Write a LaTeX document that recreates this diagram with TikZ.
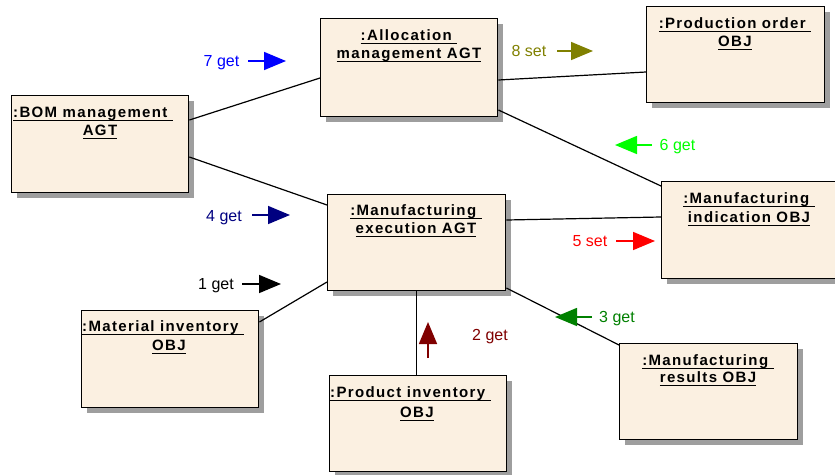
\documentclass[tikz,border=0pt]{standalone}
\usepackage{fontspec}
\setmainfont{Liberation Sans}
\newfontfamily\titlefont[LetterSpace=9]{Liberation Sans}
\usetikzlibrary{shadows,arrows.meta,calc}
\definecolor{boxfill}{HTML}{FBF0E1}
\definecolor{olivemsg}{HTML}{808000}
\definecolor{limemsg}{HTML}{00FF00}
\definecolor{navymsg}{HTML}{000080}
\definecolor{maroonmsg}{HTML}{800000}
\definecolor{greenmsg}{HTML}{008000}
% underline at a fixed depth below the baseline
\newcommand\uln[1]{\sbox0{#1}\usebox0\kern-\wd0\rule[-3.6pt]{\wd0}{1.1pt}}
\tikzset{
  objbox/.style={draw=black, line width=1.4pt, fill=boxfill, anchor=north west,
    minimum width=177pt, minimum height=97pt, inner sep=0pt,
    drop shadow={shadow xshift=5pt, shadow yshift=-5pt, fill=black!38, opacity=1}},
  ttl/.style={font=\titlefont\bfseries\fontsize{15}{17}\selectfont, inner sep=0pt, anchor=mid, yshift=-2.5pt},
  ttlw/.style={ttl, anchor=mid west},
  link/.style={draw=black, line width=1.2pt},
  lbl/.style={font=\fontsize{16}{18}\selectfont, inner sep=0pt, anchor=mid, yshift=-2.5pt},
  msg/.style={line width=1.6pt, -{Triangle[length=22pt,width=18pt]}}
}
\begin{document}
\begin{tikzpicture}[x=1pt,y=-1pt]
\useasboundingbox (0,0) rectangle (835,474);

% object boxes
\node[objbox] (bom) at (11,95) {};
\node[objbox, minimum height=98pt] (alloc) at (320,18) {};
\node[objbox, minimum width=178pt, minimum height=96pt] (prodord) at (646,6) {};
\node[objbox, minimum width=178pt, minimum height=96pt] (mexec) at (327,194) {};
\node[objbox, minimum width=178pt] (mindic) at (661,181) {};
\node[objbox] (matinv) at (81,310) {};
\node[objbox, minimum height=96pt] (prodinv) at (329,375) {};
\node[objbox, minimum width=178pt, minimum height=96pt] (mres) at (619,343) {};

% box titles
\node[ttlw] at (13,112) {\uln{:BOM management\ }};
\node[ttl] at (100,130) {\uln{AGT}};
\node[ttl] at (409,35) {\uln{:Allocation\ }};
\node[ttl] at (409,53) {\uln{management AGT}};
\node[ttl] at (735,23) {\uln{:Production order\ }};
\node[ttl] at (735,41) {\uln{OBJ}};
\node[ttl] at (416,210) {\uln{:Manufacturing\ }};
\node[ttl] at (416,228) {\uln{execution AGT}};
\node[ttl] at (749,198) {\uln{:Manufacturing\ }};
\node[ttl] at (749,217) {\uln{indication OBJ}};
\node[ttlw] at (82,326) {\uln{:Material inventory\ }};
\node[ttl] at (169,345) {\uln{OBJ}};
\node[ttlw] at (330,392) {\uln{:Product inventory\ }};
\node[ttl] at (417,412) {\uln{OBJ}};
\node[ttl] at (708,360) {\uln{:Manufacturing\ }};
\node[ttl] at (708,377) {\uln{results OBJ}};

% links
\draw[link] ([yshift=-25pt]bom.north east) -- ([yshift=-60pt]alloc.north west);
\draw[link] ([yshift=-62pt]bom.north east) -- ([yshift=-11pt]mexec.north west);
\draw[link] ([yshift=-62pt]alloc.north east) -- ([yshift=-66pt]prodord.north west);
\draw[link] ([yshift=-92pt]alloc.north east) -- ([yshift=-5pt]mindic.north west);
\draw[link] ([yshift=-26pt]mexec.north east) -- ([yshift=-36pt]mindic.north west);
\draw[link] ([yshift=-88pt]mexec.north west) -- ([yshift=-12pt]matinv.north east);
\draw[link] (mexec.south) -- (mexec.south |- prodinv.north);
\draw[link] ([yshift=-94pt]mexec.north east) -- ([yshift=-2pt]mres.north west);

% messages
\coordinate (m7a) at (248,61);  \coordinate (m7b) at (286,61);
\coordinate (m8a) at (557,51);  \coordinate (m8b) at (593,51);
\coordinate (m6a) at (652,145); \coordinate (m6b) at (615,145);
\coordinate (m4a) at (252,215); \coordinate (m4b) at (290,215);
\coordinate (m5a) at (616,241); \coordinate (m5b) at (655,241);
\coordinate (m1a) at (242,284); \coordinate (m1b) at (281,284);
\coordinate (m2a) at (428,358); \coordinate (m2b) at (428,322);
\coordinate (m3a) at (592,317); \coordinate (m3b) at (555,317);

\draw[msg, blue] (m7a) -- (m7b);
\draw[msg, olivemsg] (m8a) -- (m8b);
\draw[msg, limemsg] (m6a) -- (m6b);
\draw[msg, navymsg] (m4a) -- (m4b);
\draw[msg, red] (m5a) -- (m5b);
\draw[msg, black] (m1a) -- (m1b);
\draw[msg, maroonmsg] (m2a) -- (m2b);
\draw[msg, greenmsg] (m3a) -- (m3b);

\node[lbl, text=blue] (l7) at (221.5,61) {7 get};
\node[lbl, text=olivemsg] (l8) at (529,51) {8 set};
\node[lbl, text=limemsg] (l6) at (677.5,145) {6 get};
\node[lbl, text=navymsg] (l4) at (224,216) {4 get};
\node[lbl, text=red] (l5) at (590,241) {5 set};
\node[lbl, text=black] (l1) at (216,284) {1 get};
\node[lbl, text=maroonmsg] (l2) at (490,335) {2 get};
\node[lbl, text=greenmsg] (l3) at (617,317) {3 get};
\end{tikzpicture}
\end{document}
